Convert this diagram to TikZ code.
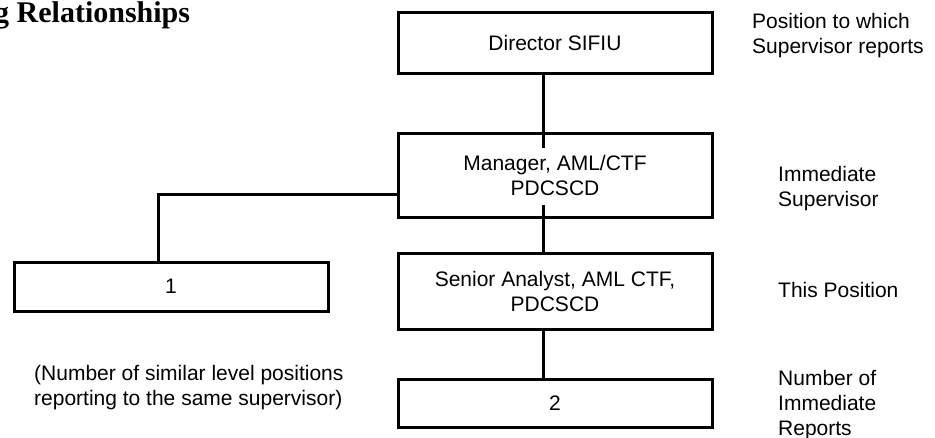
\documentclass[tikz,border=0pt]{standalone}
\usepackage{fontspec}
\setmainfont{Liberation Sans}
\newfontfamily\titlefont{Liberation Serif}
\usetikzlibrary{positioning}
\tikzset{
    x=1pt, y=1pt,
    post/.style={draw, line width=3pt, outer sep=0pt, inner sep=0pt, minimum width=314pt, align=center, font=\fontsize{21}{25}\selectfont},
    note/.style={anchor=west, align=left, inner sep=0pt, font=\fontsize{21}{25}\selectfont},
    link/.style={line width=3pt},
}
\begin{document}
\begin{tikzpicture}
    \useasboundingbox (0,0) rectangle (935,-437);
    \node[anchor=base west, inner sep=0pt, font=\titlefont\bfseries\fontsize{30}{34}\selectfont] (title) at (-6,-22) {g Relationships};

    \node[post, minimum height=61pt] (director) at (555,-42.5) {Director SIFIU};
    \node[post, minimum height=84pt, below=60pt of director] (manager) {Manager, AML/CTF\\PDCSCD};
    \node[post, minimum height=76pt, below=36pt of manager] (analyst) {Senior Analyst, AML CTF,\\PDCSCD};
    \node[post, minimum height=48pt, below=50pt of analyst] (reports) {2};
    \node[post, minimum height=49pt, left=70pt of analyst, yshift=4.5pt] (peers) {1};

    % connectors run a little way into the manager box
    \coordinate (mgrtop) at ([xshift=-12pt, yshift=-15pt]manager.north);
    \coordinate (mgrbot) at ([xshift=-12pt, yshift=12pt]manager.south);
    \draw[link] ([xshift=-12pt]director.south) -- (mgrtop);
    \draw[link] (mgrbot) -- ([xshift=-12pt]analyst.north);
    \draw[link] ([xshift=-12pt]analyst.south) -- ([xshift=-12pt]reports.north);
    \draw[link] ([yshift=-19pt]manager.west) -| ([xshift=-13pt]peers.north);

    \node[note] (supnote) at (752,-36) {Position to which\\Supervisor reports};
    \node[note] (immnote) at (778,-189) {Immediate\\Supervisor};
    \node[note] (thisnote) at (778,-290) {This Position};
    \node[note] (repnote) at (778,-405) {Number of\\Immediate\\Reports};
    \node[note] (peernote) at (34,-388) {(Number of similar level positions\\reporting to the same supervisor)};
\end{tikzpicture}
\end{document}
